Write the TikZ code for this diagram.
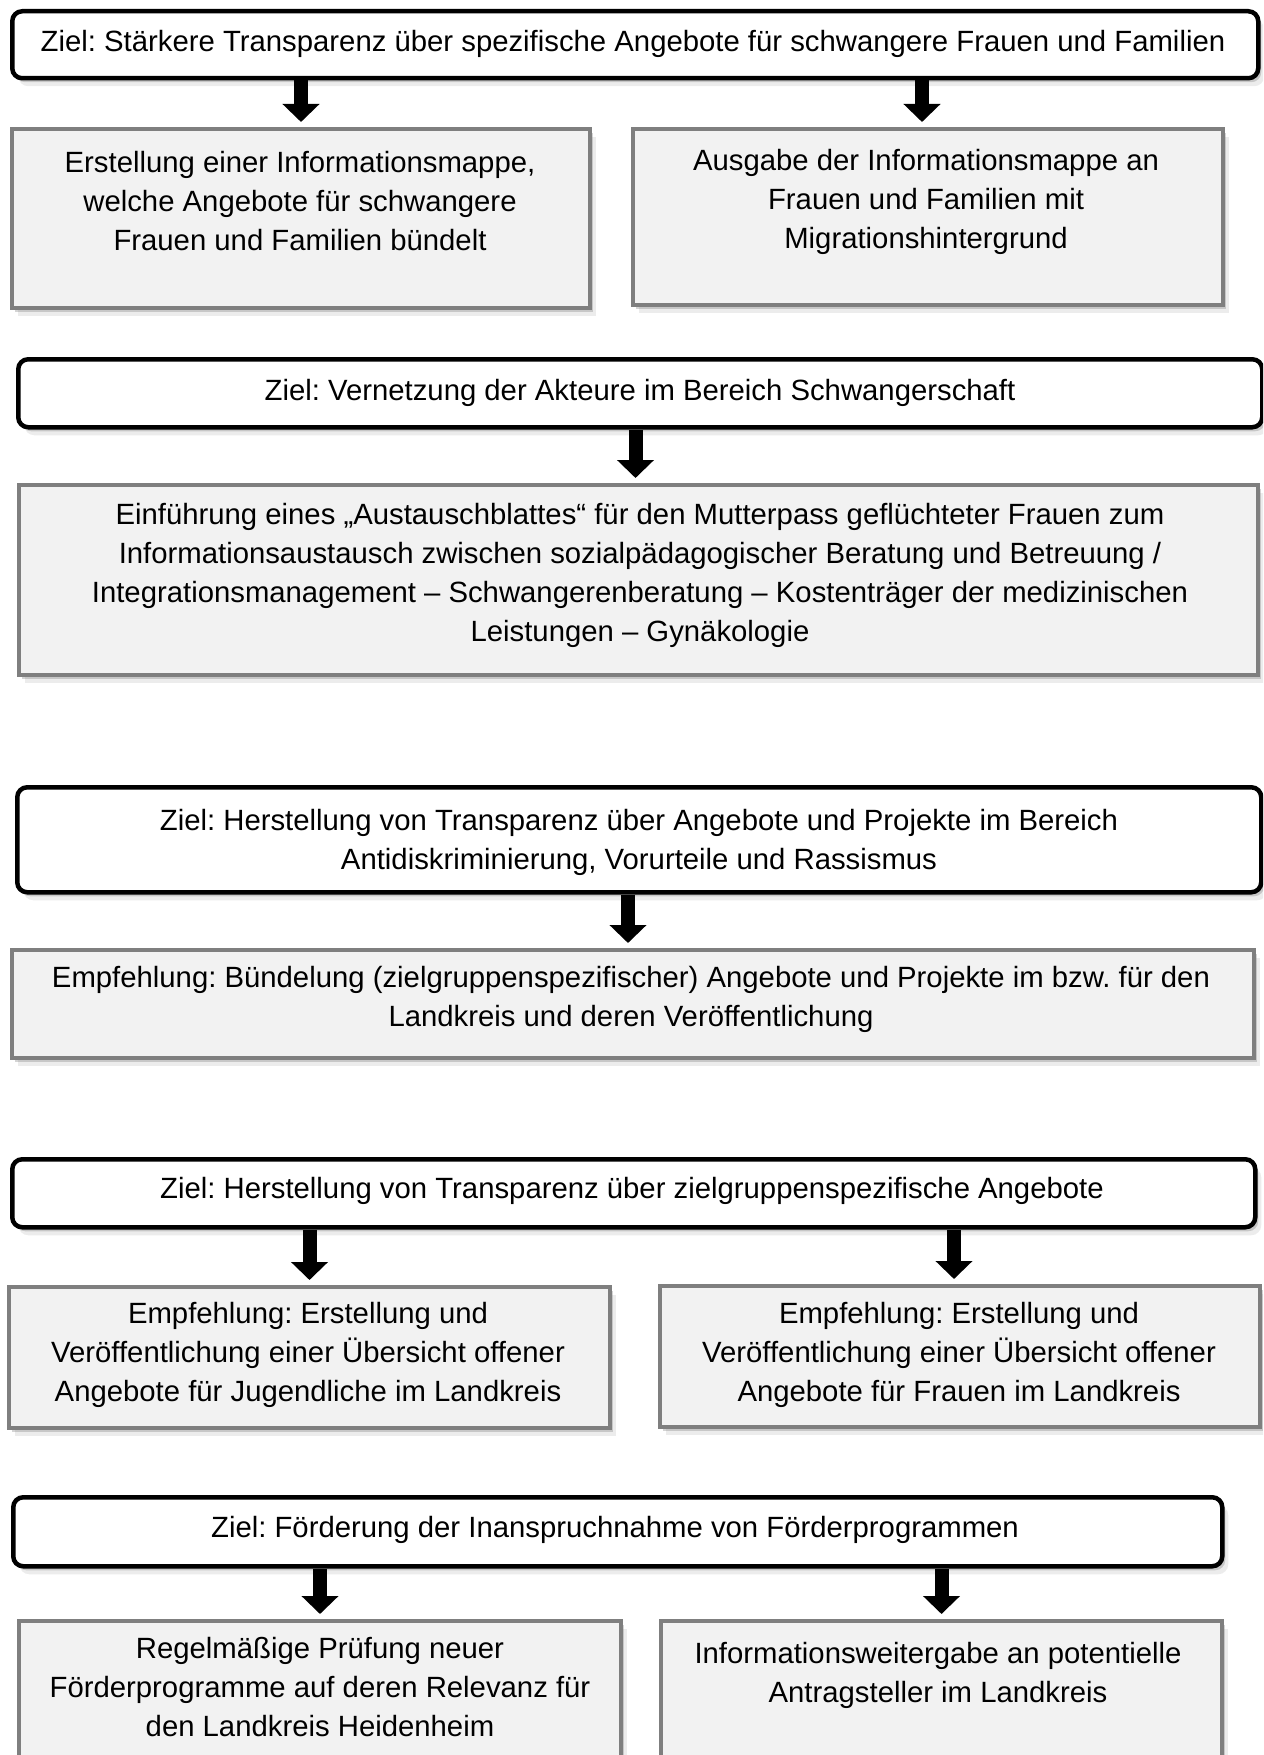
\documentclass[tikz,border=0pt]{standalone}
\usepackage{fontspec}
\setmainfont{Liberation Sans}
\usetikzlibrary{arrows.meta,shadows}
\frenchspacing
\definecolor{boxgray}{HTML}{7F7F7F}
\definecolor{boxfill}{HTML}{F2F2F2}
\tikzset{
  softshadow/.style={
    drop shadow={shadow xshift=3pt, shadow yshift=-4pt, opacity=0.28, fill=black!60},
    drop shadow={shadow xshift=6pt, shadow yshift=-8pt, opacity=0.12, fill=black!60}},
  zielbox/.style={draw=black, line width=4.5pt, rounded corners=10pt, fill=white, softshadow, inner sep=0pt, anchor=north west},
  graybox/.style={draw=boxgray, line width=4pt, fill=boxfill, softshadow, inner sep=0pt, anchor=north west},
  txt/.style={font=\fontsize{29.3}{39}\selectfont\frenchspacing, align=center, inner sep=0pt,
    execute at begin node=\strut, execute at end node=\strut},
  bigarrow/.style={line width=14pt, -{Triangle[width=36pt 0 0, length=18pt 0 0]}}
}
\begin{document}
\begin{tikzpicture}[x=1pt, y=-1pt]
\useasboundingbox (0,0) rectangle (1263,1755);
\clip (0,0) rectangle (1263,1755);

% Section 1
\node[zielbox, minimum width=1246pt, minimum height=67pt] (z1) at (10,9) {};
\node[txt] (z1t) at (633,44) {Ziel: Stärkere Transparenz über spezifische Angebote für schwangere Frauen und Familien};
\node[graybox, minimum width=578pt, minimum height=179pt] (b1) at (10,127) {};
\node[txt] (b1t) at (300,207) {Erstellung einer Informationsmappe,\\ welche Angebote für schwangere\\ Frauen und Familien bündelt};
\node[graybox, minimum width=590pt, minimum height=176pt] (b2) at (631,127) {};
\node[txt] (b2t) at (926,205) {Ausgabe der Informationsmappe an\\ Frauen und Familien mit\\ Migrationshintergrund};
\draw[bigarrow] (z1.south -| b1.north) -- ([yshift=5pt]b1.north);
\draw[bigarrow] ([xshift=-6pt]z1.south -| b2.north) -- ([xshift=-6pt,yshift=5pt]b2.north);

% Section 2
\node[zielbox, minimum width=1244pt, minimum height=68pt] (z2) at (16,357) {};
\node[txt] (z2t) at (640,393) {Ziel: Vernetzung der Akteure im Bereich Schwangerschaft};
\node[graybox, minimum width=1239pt, minimum height=190pt] (b3) at (17,483) {};
\node[txt] (b3t) at (640,578) {Einführung eines „Austauschblattes“ für den Mutterpass geflüchteter Frauen zum\\ Informationsaustausch zwischen sozialpädagogischer Beratung und Betreuung /\\ Integrationsmanagement – Schwangerenberatung – Kostenträger der medizinischen\\ Leistungen – Gynäkologie};
\draw[bigarrow] ([xshift=-3pt]z2.south -| b3.north) -- ([xshift=-3pt,yshift=5pt]b3.north);

% Section 3
\node[zielbox, minimum width=1244pt, minimum height=105pt] (z3) at (15,785) {};
\node[txt] (z3t) at (639,845) {Ziel: Herstellung von Transparenz über Angebote und Projekte im Bereich\\ Antidiskriminierung, Vorurteile und Rassismus};
\node[graybox, minimum width=1242pt, minimum height=108pt] (b4) at (10,948) {};
\node[txt] (b4t) at (631,1002) {Empfehlung: Bündelung (zielgruppenspezifischer) Angebote und Projekte im bzw. für den\\ Landkreis und deren Veröffentlichung};
\draw[bigarrow] ([xshift=-5pt]z3.south -| b4.north) -- ([xshift=-5pt,yshift=5pt]b4.north);

% Section 4
\node[zielbox, minimum width=1243pt, minimum height=68pt] (z4) at (10,1157) {};
\node[txt] (z4t) at (632,1191) {Ziel: Herstellung von Transparenz über zielgruppenspezifische Angebote};
\node[graybox, minimum width=601pt, minimum height=141pt] (b5) at (7,1285) {};
\node[txt] (b5t) at (308,1358) {Empfehlung: Erstellung und\\ Veröffentlichung einer Übersicht offener\\ Angebote für Jugendliche im Landkreis};
\node[graybox, minimum width=600pt, minimum height=141pt] (b6) at (658,1284) {};
\node[txt] (b6t) at (959,1358) {Empfehlung: Erstellung und\\ Veröffentlichung einer Übersicht offener\\ Angebote für Frauen im Landkreis};
\draw[bigarrow] (z4.south -| b5.north) -- ([yshift=5pt]b5.north);
\draw[bigarrow] ([xshift=-6pt]z4.south -| b6.north) -- ([xshift=-6pt,yshift=5pt]b6.north);

% Section 5
\node[zielbox, minimum width=1209pt, minimum height=69pt] (z5) at (11,1495) {};
\node[txt] (z5t) at (615,1530) {Ziel: Förderung der Inanspruchnahme von Förderprogrammen};
\node[graybox, minimum width=602pt, minimum height=180pt] (b7) at (17,1619) {};
\node[txt] (b7t) at (320,1693) {Regelmäßige Prüfung neuer\\ Förderprogramme auf deren Relevanz für\\ den Landkreis Heidenheim};
\node[graybox, minimum width=561pt, minimum height=180pt] (b8) at (659,1619) {};
\node[txt] (b8t) at (938,1678) {Informationsweitergabe an potentielle\\ Antragsteller im Landkreis};
\draw[bigarrow] (z5.south -| b7.north) -- ([yshift=5pt]b7.north);
\draw[bigarrow] (z5.south -| b8.north) -- ([yshift=5pt]b8.north);
\end{tikzpicture}
\end{document}
